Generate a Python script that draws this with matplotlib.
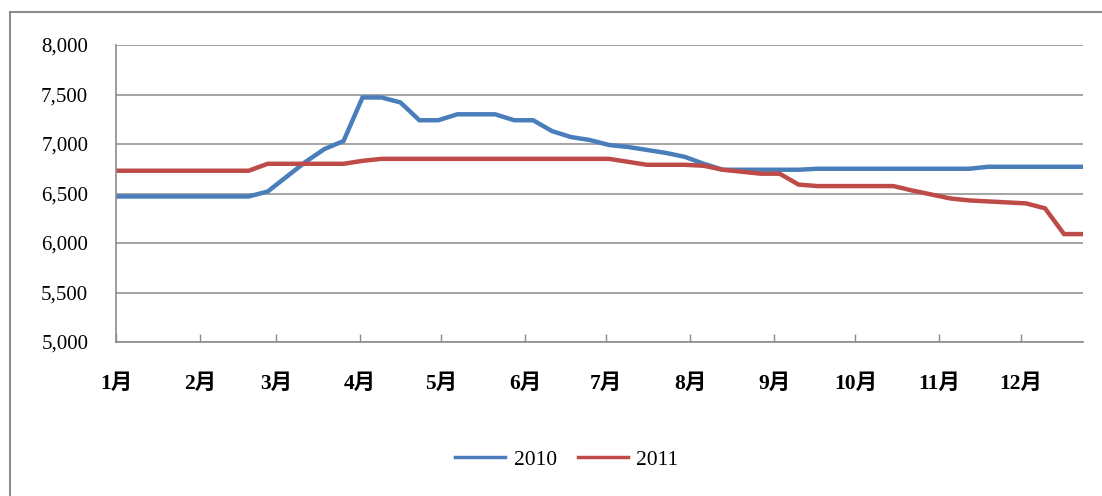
import matplotlib
matplotlib.use("Agg")
import matplotlib.pyplot as plt
from matplotlib.patches import Rectangle
from matplotlib.ticker import FuncFormatter, FixedLocator

plt.rcParams['font.family'] = ['Liberation Serif', 'Noto Sans CJK SC', 'DejaVu Sans']

# weekly sample days (day of year offsets)
days = list(range(0, 358, 7))

series_2010 = [6470, 6470, 6470, 6470, 6470, 6470, 6470, 6470,
               6520, 6670, 6820, 6950, 7030,
               7470, 7470, 7420, 7240, 7240, 7300, 7300, 7300,
               7240, 7240, 7130, 7070, 7040, 6990, 6970, 6940, 6910, 6870, 6800,
               6740, 6740, 6740, 6740, 6740,
               6750, 6750, 6750, 6750, 6750, 6750, 6750, 6750, 6750,
               6770, 6770, 6770, 6770, 6770, 6770]

series_2011 = [6730, 6730, 6730, 6730, 6730, 6730, 6730, 6730,
               6800, 6800, 6800, 6800, 6800, 6830,
               6850, 6850, 6850, 6850, 6850, 6850, 6850, 6850, 6850, 6850, 6850, 6850, 6850,
               6820, 6790, 6790, 6790, 6780, 6740, 6720, 6700, 6700, 6590,
               6575, 6575, 6575, 6575, 6575,
               6530, 6490, 6450, 6430, 6420, 6410, 6400, 6350, 6090, 6090]

month_days = [0, 31, 59, 90, 120, 151, 181, 212, 243, 273, 304, 334]
month_labels = ['1月', '2月', '3月', '4月', '5月', '6月', '7月', '8月', '9月', '10月', '11月', '12月']
y_ticks = [5000, 5500, 6000, 6500, 7000, 7500, 8000]

W, H = 1102, 496
fig = plt.figure(figsize=(W / 100, H / 100), dpi=100)
fig.patch.set_facecolor('white')

# outer chart border
fig.patches.append(Rectangle((10 / W, -0.05), 1.2, 1 - 12 / H + 0.05, transform=fig.transFigure,
                             fill=False, edgecolor='#8c8c8c', linewidth=1.5))

ax = fig.add_axes([116 / W, (H - 342) / H, 967 / W, 297 / H])
ax.plot(days, series_2010, color='#4a7ebb', linewidth=3.2, label='2010', solid_joinstyle='miter')
ax.plot(days, series_2011, color='#be4b48', linewidth=3.2, label='2011', solid_joinstyle='miter')

ax.set_xlim(0, days[-1])
ax.set_ylim(5000, 8000)
ax.set_yticks(y_ticks)
ax.yaxis.set_major_formatter(FuncFormatter(lambda v, p: f'{int(v):,}'))
ax.yaxis.grid(True, color='#8c8c8c', linewidth=1.1)
ax.set_axisbelow(True)
ax.xaxis.set_major_locator(FixedLocator(month_days))
ax.set_xticklabels(month_labels, fontsize=15.5, fontweight='bold')
for lbl in ax.get_yticklabels():
    lbl.set_fontsize(15)

ax.tick_params(axis='x', direction='in', length=6, width=1, color='#8c8c8c', pad=23)
ax.tick_params(axis='y', length=0, pad=20)

for s in ['top', 'right']:
    ax.spines[s].set_visible(False)
for s in ['left', 'bottom']:
    ax.spines[s].set_color('#8c8c8c')
    ax.spines[s].set_linewidth(1.2)

leg = fig.legend(loc='center', bbox_to_anchor=(567 / W, 1 - 460 / H), ncol=2, frameon=False,
                 fontsize=15.5, handlelength=2.3, columnspacing=1.0, handletextpad=0.4)
for line in leg.get_lines():
    line.set_linewidth(2.5)

fig.savefig('out.png', dpi=100, facecolor='white')
